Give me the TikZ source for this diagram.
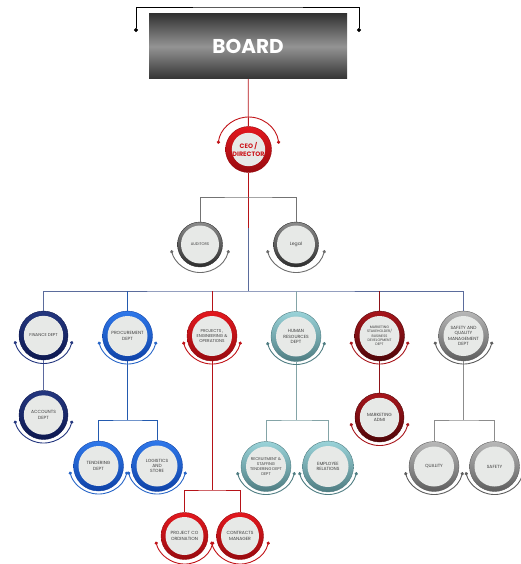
\documentclass[tikz,border=0pt]{standalone}
\usepackage{fontspec}
\setmainfont{Poppins}
\usetikzlibrary{arrows.meta,positioning}
\definecolor{cinner}{HTML}{E7E9E7}
\definecolor{ctxt}{HTML}{3E3E3E}
\definecolor{credt}{HTML}{E3181E}\definecolor{credb}{HTML}{980B10}
\definecolor{cnavt}{HTML}{24377F}\definecolor{cnavb}{HTML}{0D1850}
\definecolor{cblut}{HTML}{2F78EA}\definecolor{cblub}{HTML}{0F43A8}
\definecolor{ctelt}{HTML}{9AD3D9}\definecolor{ctelb}{HTML}{4F7D82}
\definecolor{cmart}{HTML}{A8161C}\definecolor{cmarb}{HTML}{4F0609}
\definecolor{cgryt}{HTML}{B8B8B8}\definecolor{cgryb}{HTML}{5E5E5E}
\definecolor{cdrkt}{HTML}{8C8C8C}\definecolor{cdrkb}{HTML}{2E2E2E}
\definecolor{cbus}{HTML}{5B6C9C}

\begin{document}
\begin{tikzpicture}[x=1pt,y=-1pt,
  font=\fontsize{4.5}{5.4}\selectfont,
  dept/.style args={#1/#2}{circle,minimum size=#1,inner sep=0pt,align=center,text=ctxt,
    path picture={\fill[cinner] (path picture bounding box.center) circle (#2);}},
  ring/.style 2 args={top color=#1,bottom color=#2,draw=#2,line width=0.4pt},
  deptarc/.style={{Circle[length=3.2pt]}-{Circle[length=3.2pt]},line width=0.9pt,draw=#1},
  link/.style={line width=0.8pt,draw=#1}]
  \useasboundingbox (0,0) rectangle (520,564);

  \node[minimum width=198,minimum height=65,inner sep=0pt,top color=black!80,bottom color=black!80,
        middle color=black!42,text=white,font=\fontsize{20}{24}\selectfont\bfseries] (board) at (248,46.5) {BOARD};
  \coordinate (bl) at (136,32);
  \coordinate (br) at (359,32);
  \draw[{Circle[length=4pt]}-{Circle[length=4pt]},line width=0.8pt] (bl) |- (248,7) -| (br);

  \node[dept=46/16.7,ring={credt}{credb},text=credt!90!black,font=\fontsize{6.4}{7.8}\selectfont\bfseries] (ceo) at (248.5,149.5) {CEO /\\DIRECTOR};

  \node[dept=45/19,ring={cdrkt}{cdrkb},font=\fontsize{3.8}{4.5}\selectfont] (aud) at (200,244.5) {AUDITORS};
  \node[dept=45/19,ring={cdrkt}{cdrkb},font=\fontsize{4.6}{5.4}\selectfont] (legal) at (296,244.5) {Legal};

  \node[dept=49/19.7,ring={cnavt}{cnavb},font=\fontsize{4.2}{5}\selectfont] (fin) at (43.5,335.5) {FINANCE DEPT};
  \node[dept=50/20,ring={cblut}{cblub}] (proc) at (127.5,336) {PROCUREMENT\\DEPT};
  \node[dept=50/20,ring={credt}{credb},font=\fontsize{4.2}{5.2}\selectfont] (proj) at (212,336) {PROJECTS ,\\ENGINEERING \&\\OPERATIONS};
  \node[dept=50/20,ring={ctelt}{ctelb}] (hr) at (296,336.5) {HUMAN\\RESOURCES\\DEPT};
  \node[dept=50/20,ring={cmart}{cmarb},font=\fontsize{3.5}{4.3}\selectfont] (mkt) at (379.5,336) {MARKETING\\STAKEHOLDER/\\BUSINESS\\DEVELOPMENT\\DEPT};
  \node[dept=50/20,ring={cgryt}{cgryb}] (saf) at (463.5,336) {SAFETY AND\\QUALITY\\MANAGEMENT\\DEPT};

  \node[dept=49/19.7,ring={cnavt}{cnavb}] (acc) at (43.5,415) {ACCOUNTS\\DEPT};
  \node[dept=49/19.7,ring={cmart}{cmarb}] (madm) at (379.5,417.5) {MARKETING\\ADMI};

  \node[dept=50/20,ring={cblut}{cblub}] (tend) at (98.5,466) {TENDERING\\DEPT};
  \node[dept=51/20.5,ring={cblut}{cblub}] (logi) at (157,466) {LOGISTICS\\AND\\STORE};
  \node[dept=50/20,ring={ctelt}{ctelb},font=\fontsize{4}{5}\selectfont] (recr) at (266,466.5) {RECRUITMENT \&\\STAFFING\\TENDERING DEPT\\DEPT};
  \node[dept=51/20.5,ring={ctelt}{ctelb}] (empl) at (328,466.5) {EMPLOYEE\\RELATIONS};
  \node[dept=50/20,ring={cgryt}{cgryb}] (qual) at (434,466.5) {QUALITY};
  \node[dept=50/20,ring={cgryt}{cgryb}] (safe) at (494.5,466.5) {SAFETY};

  \node[dept=47/19,ring={credt}{credb}] (pco) at (184.5,536) {PROJECT CO\\ORDINATION};
  \node[dept=47/19,ring={credt}{credb}] (con) at (240,536) {CONTRACTS\\MANAGER};

  \coordinate (bus) at (248.5,291);
  \coordinate (audsplit) at (248.5,197);
  \coordinate (psplit) at (127.5,420);
  \coordinate (jsplit) at (212,490);
  \coordinate (hsplit) at (296,420);
  \coordinate (ssplit) at (463.5,420);

  \draw[link=credt!80!black] (board) -- (ceo);
  \draw[link=credt!80!black] (ceo) -- (248.5,228);
  \draw[link=cbus] (248.5,228) -- (bus);
  \draw[link=black!55] (aud) |- (audsplit) -| (legal);
  \draw[link=cbus] (fin) |- (bus) -| (saf);
  \draw[link=cblut!75!black] (proc) -- (proc.north |- bus);
  \draw[link=credt!80!black] (proj) -- (proj.north |- bus);
  \draw[link=ctelb!70!white] (hr) -- (hr.north |- bus);
  \draw[link=cmart!85!black] (mkt) -- (mkt.north |- bus);

  \draw[link=cnavt!75!white] (fin) -- (acc);
  \draw[link=cblut!75!black] (proc) -- (psplit);
  \draw[link=cblut!75!black] (tend) |- (psplit) -| (logi);
  \draw[link=credt!80!black] (proj) -- (jsplit);
  \draw[link=credt!80!black] (pco) |- (jsplit) -| (con);
  \draw[link=ctelb!70!white] (hr) -- (hsplit);
  \draw[link=ctelb!70!white] (recr) |- (hsplit) -| (empl);
  \draw[link=cmart!85!black] (mkt) -- (madm);
  \draw[link=black!45] (saf) -- (ssplit);
  \draw[link=black!45] (qual) |- (ssplit) -| (safe);

  \draw[deptarc=credt!85!black] ([yshift=2pt]ceo.center) ++(7:30.5pt) arc[start angle=7,end angle=173,radius=30.5pt];
  \foreach \n/\c in {aud/cdrkb!70!white,legal/cdrkb!70!white,fin/cnavt,acc/cnavt,proc/cblut!85!black,tend/cblut!85!black,logi/cblut!85!black,
      proj/credt!85!black,pco/credt!85!black,con/credt!85!black,hr/ctelb,recr/ctelb,empl/ctelb,mkt/cmart,madm/cmart,
      saf/cgryb,qual/cgryb,safe/cgryb}
    \draw[deptarc=\c] ([yshift=1.5pt]\n.center) ++(-14:29.5pt) arc[start angle=-14,end angle=-166,radius=29.5pt];
\end{tikzpicture}
\end{document}
